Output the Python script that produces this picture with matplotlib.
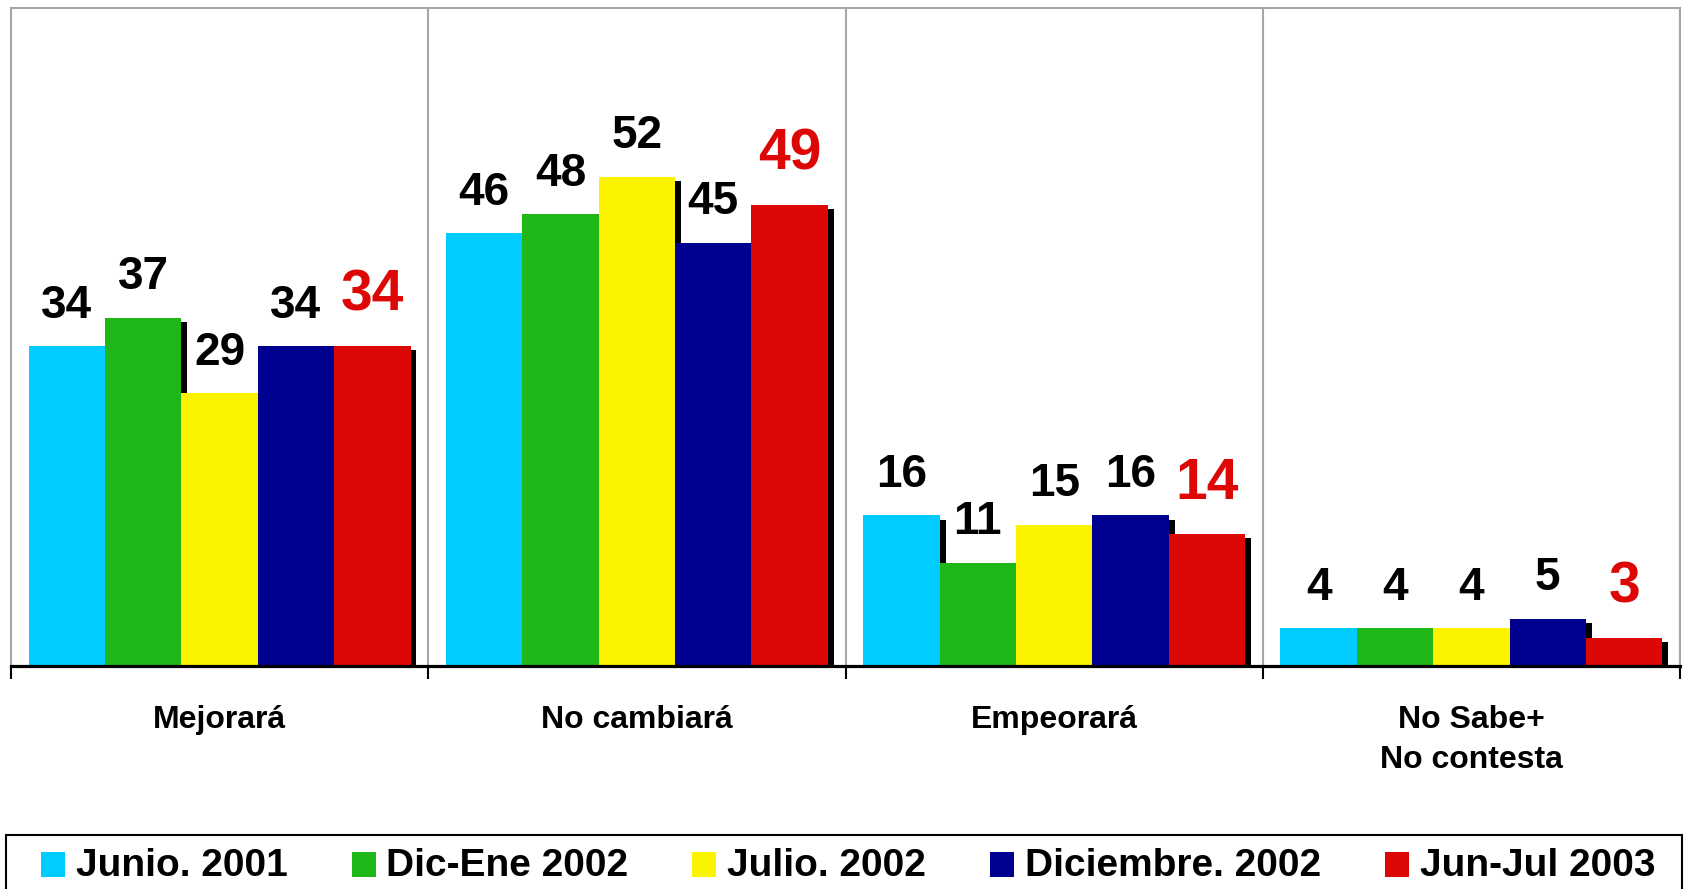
import numpy as np
import matplotlib
matplotlib.use("Agg")
import matplotlib.pyplot as plt
from matplotlib import patheffects as pe
from matplotlib.legend_handler import HandlerPatch
from matplotlib.patches import Rectangle

plt.rcParams["font.family"] = ["Liberation Sans", "DejaVu Sans"]

CATEGORIES = ["Mejorará", "No cambiará", "Empeorará", "No Sabe+\nNo contesta"]
SERIES = ["Junio. 2001", "Dic-Ene 2002", "Julio. 2002", "Diciembre. 2002", "Jun-Jul 2003"]
JUN_2001 = [34, 46, 16, 4]
DIC_ENE_2002 = [37, 48, 11, 4]
JUL_2002 = [29, 52, 15, 4]
DIC_2002 = [34, 45, 16, 5]
JUN_JUL_2003 = [34, 49, 14, 3]
VALUES = [JUN_2001, DIC_ENE_2002, JUL_2002, DIC_2002, JUN_JUL_2003]

COLORS = ["#00CCFF", "#20B818", "#FCF300", "#000090", "#DD0806"]
RED = "#DD0806"
GRID = "#A6A6A6"
W = 0.183

W_PX, H_PX = 1684, 889
fig = plt.figure(figsize=(W_PX / 100, H_PX / 100), dpi=100)
ax = fig.add_axes([11 / W_PX, 1 - 666 / H_PX, (1680 - 11) / W_PX, (666 - 7.5) / H_PX])

x = np.arange(len(CATEGORIES))
shadow = [pe.SimplePatchShadow(offset=(4.3, -2.9), shadow_rgbFace="black", alpha=1), pe.Normal()]
for j, vals in enumerate(VALUES):
    xs = x + (j - 2) * W
    bars = ax.bar(xs, vals, W, color=COLORS[j], linewidth=0)
    for b in bars:
        b.set_path_effects(shadow)
    last = j == len(VALUES) - 1
    for xi, v in zip(xs, vals):
        ax.annotate(str(v), (xi, v), xytext=(0, 25.5 if last else 20.5), textcoords="offset points",
                    ha="center", va="baseline", fontsize=41 if last else 33, fontweight="bold",
                    color=RED if last else "black")

ax.set_xlim(-0.5, len(CATEGORIES) - 0.5)
ax.set_ylim(0, 70)
ax.set_yticks([])
ax.set_xticks(np.arange(len(CATEGORIES) + 1) - 0.5)
ax.set_xticklabels([])
ax.set_xticks(x, CATEGORIES, minor=True)
ax.tick_params(axis="x", which="major", length=9, width=1.5, color="black", direction="out")
ax.tick_params(axis="x", which="minor", length=0, pad=28, labelsize=23)
for t in ax.get_xticklabels(minor=True):
    t.set_fontweight("bold")
    t.set_linespacing(1.44)
ax.grid(axis="x", which="major", color=GRID, lw=1.5)
ax.set_axisbelow(True)
for s in ("top", "left", "right"):
    ax.spines[s].set_color(GRID)
    ax.spines[s].set_linewidth(1.5)
ax.spines["bottom"].set_color("black")
ax.spines["bottom"].set_linewidth(2.3)


def square(legend, orig_handle, xdescent, ydescent, width, height, fontsize):
    return Rectangle((-xdescent, -0.03 * fontsize), width, 0.64 * fontsize)


handles = [Rectangle((0, 0), 1, 1, facecolor=c, linewidth=0) for c in COLORS]
fig.legend(handles, SERIES, loc="upper left",
           bbox_to_anchor=(41 / W_PX, 0, (1655 - 41) / W_PX, 1 - 848 / H_PX),
           mode="expand", ncol=5, frameon=False, borderpad=0, borderaxespad=0,
           handlelength=0.62, handletextpad=0.28,
           prop=dict(weight="bold", size=28),
           handler_map={Rectangle: HandlerPatch(patch_func=square)})
fig.add_artist(Rectangle((6 / W_PX, -0.05), (1682 - 6) / W_PX, 0.05 + 1 - 835 / H_PX,
                         transform=fig.transFigure, fill=False, edgecolor="black", linewidth=1.5))

fig.savefig("out.png", dpi=100)
